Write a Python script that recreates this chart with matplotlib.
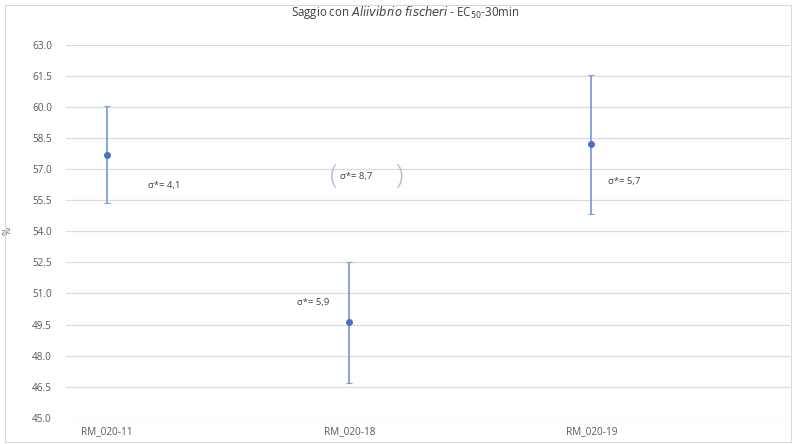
import matplotlib.pyplot as plt
from matplotlib.patches import Rectangle

samples = ["RM_020-11", "RM_020-18", "RM_020-19"]
ec50 = [57.7, 49.6, 58.2]
err = [2.35, 2.9, 3.35]
sigma_labels = ["σ*= 4,1", "σ*= 8,7", "σ*= 5,7", "σ*= 5,9"]
yticks = [45.0, 46.5, 48.0, 49.5, 51.0, 52.5, 54.0, 55.5, 57.0, 58.5, 60.0, 61.5, 63.0]

plt.rcParams["font.family"] = ["Open Sans", "DejaVu Sans"]

fig = plt.figure(figsize=(7.94, 4.44), dpi=100)
ax = fig.add_axes([0.083, 0.059, 0.912, 0.84])

x = list(range(len(samples)))
ax.errorbar(x, ec50, yerr=err, fmt="none", ecolor="#7f9fd6", elinewidth=1.3,
            capsize=2.5, capthick=0.8)
ax.plot(x, ec50, "o", color="#4472C4", markersize=4, linestyle="none")

ax.set_ylim(45, 63)
ax.set_xlim(-0.17, 2.82)
ax.set_yticks(yticks)
ax.set_yticklabels([f"{v:.1f}" for v in yticks])
ax.set_xticks(x)
ax.set_xticklabels(samples)
ax.tick_params(length=0, labelsize=7.2, colors="#595959", pad=6)
ax.tick_params(axis="y", pad=10)
ax.grid(axis="y", color="#dcdcdc", linewidth=0.9)
ax.set_axisbelow(True)
for s in ax.spines.values():
    s.set_visible(False)
ax.set_ylabel("%", fontsize=7, color="#595959", labelpad=-2)
ax.yaxis.set_label_coords(-0.072, 0.5)

# sigma annotations
txt = dict(fontsize=6.8, color="#404040", va="center", ha="left")
ax.text(0.17, 56.2, sigma_labels[0], **txt)
ax.text(0.96, 56.63, sigma_labels[1], **txt)
ax.text(2.07, 56.39, sigma_labels[2], **txt)
ax.text(0.785, 50.55, sigma_labels[3], **txt)
ax.text(0.935, 56.6, "(", fontsize=20, color="#a9bcd8", va="center", ha="center",
        fontweight="light")
ax.text(1.205, 56.6, ")", fontsize=20, color="#a9bcd8", va="center", ha="center",
        fontweight="light")

fig.text(0.51, 0.972, "Saggio con $\\it{Aliivibrio\\ fischeri}$ - EC$_{50}$-30min",
         ha="center", va="center", fontsize=8.3, color="#404040")

fig.patches.append(Rectangle((0.006, 0.004), 0.99, 0.985, transform=fig.transFigure,
                             fill=False, edgecolor="#d9d9d9", linewidth=0.8))

fig.savefig("out.png", dpi=100)
